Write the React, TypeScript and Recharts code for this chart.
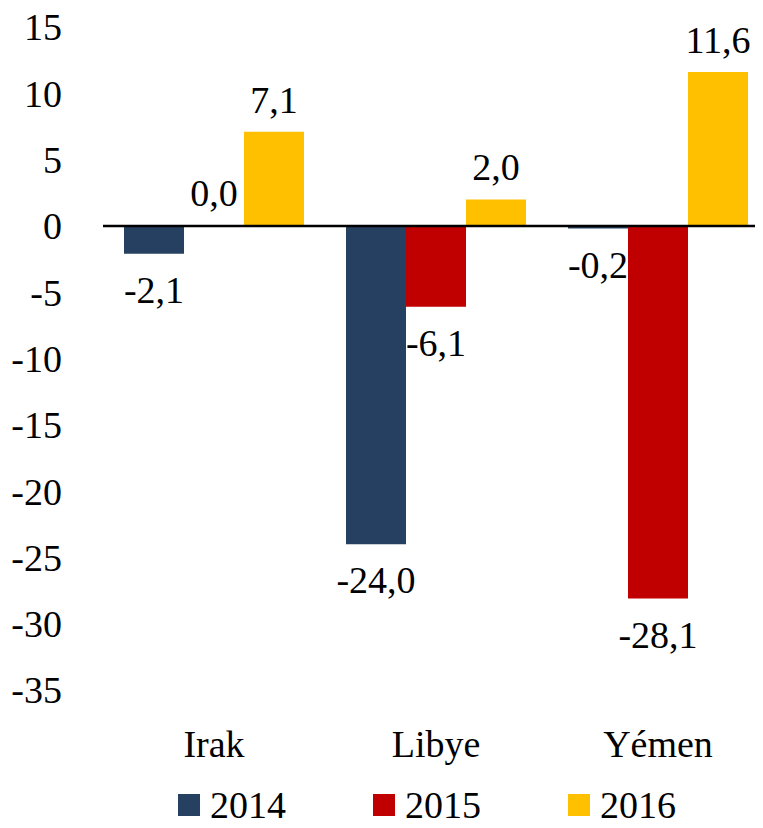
import React from "react";
import { BarChart, Bar, XAxis, YAxis, ReferenceLine, Legend, LabelList } from "recharts";

const countries = ["Irak", "Libye", "Yémen"];
const values2014 = [-2.1, -24.0, -0.2];
const values2015 = [0.0, -6.1, -28.1];
const values2016 = [7.1, 2.0, 11.6];
const yTicks = [15, 10, 5, 0, -5, -10, -15, -20, -25, -30, -35];

const series = [
  { key: "y2014", name: "2014", color: "#264061" },
  { key: "y2015", name: "2015", color: "#C00000" },
  { key: "y2016", name: "2016", color: "#FFC000" },
];

const data = countries.map((c, i) => ({
  country: c,
  y2014: values2014[i],
  y2015: values2015[i],
  y2016: values2016[i],
}));

const FONT = "Liberation Serif, DejaVu Serif, serif";

const fmt = (v: number) => v.toFixed(1).replace(".", ",");

function ValueLabel(props: any) {
  const { x, y, width, height, value } = props;
  const v = Number(value);
  const h = Number(height) || 0;
  const top = Math.min(y, y + h);
  const bottom = Math.max(y, y + h);
  const cy = v >= 0 ? top - 32 : bottom + 36;
  return (
    <text
      x={x + width / 2}
      y={cy}
      textAnchor="middle"
      dominantBaseline="central"
      style={{ fontFamily: FONT, fontSize: 38 }}
      fill="#000"
    >
      {fmt(v)}
    </text>
  );
}

function LegendBox() {
  return (
    <div style={{ display: "flex", paddingLeft: 178, fontFamily: FONT, fontSize: 38, color: "#000" }}>
      {series.map((s) => (
        <div key={s.key} style={{ display: "flex", alignItems: "center", width: 195, height: 38 }}>
          <span style={{ display: "inline-block", width: 22, height: 22, background: s.color, marginRight: 10 }} />
          <span style={{ lineHeight: "38px" }}>{s.name}</span>
        </div>
      ))}
    </div>
  );
}

export default function App() {
  return (
    <div style={{ margin: -8, width: 763, height: 828, overflow: "hidden", background: "#fff", fontFamily: FONT }}>
      <BarChart
        width={770}
        height={828}
        data={data}
        margin={{ top: 27, right: 1, left: 0, bottom: 30 }}
        barGap={0}
        style={{ fontFamily: FONT }}
      >
        <YAxis
          type="number"
          domain={[-35, 15]}
          ticks={yTicks}
          interval={0}
          width={103}
          axisLine={false}
          tickLine={false}
          tickSize={0}
          tickMargin={41}
          tick={{ fill: "#000", fontSize: 38, fontFamily: FONT }}
        />
        <XAxis
          dataKey="country"
          axisLine={false}
          tickLine={false}
          tickSize={0}
          tickMargin={40}
          height={70}
          tick={{ fill: "#000", fontSize: 38, fontFamily: FONT }}
        />
        <Legend
          verticalAlign="bottom"
          content={() => <LegendBox />}
          wrapperStyle={{ left: 0, bottom: 4, width: 763 }}
        />
        {series.map((s) => (
          <Bar
            key={s.key}
            dataKey={s.key}
            name={s.name}
            fill={s.color}
            barSize={60}
            minPointSize={1}
            isAnimationActive={false}
          >
            <LabelList dataKey={s.key} content={ValueLabel} />
          </Bar>
        ))}
        <ReferenceLine y={0} stroke="#000" strokeWidth={2.5} />
      </BarChart>
    </div>
  );
}
